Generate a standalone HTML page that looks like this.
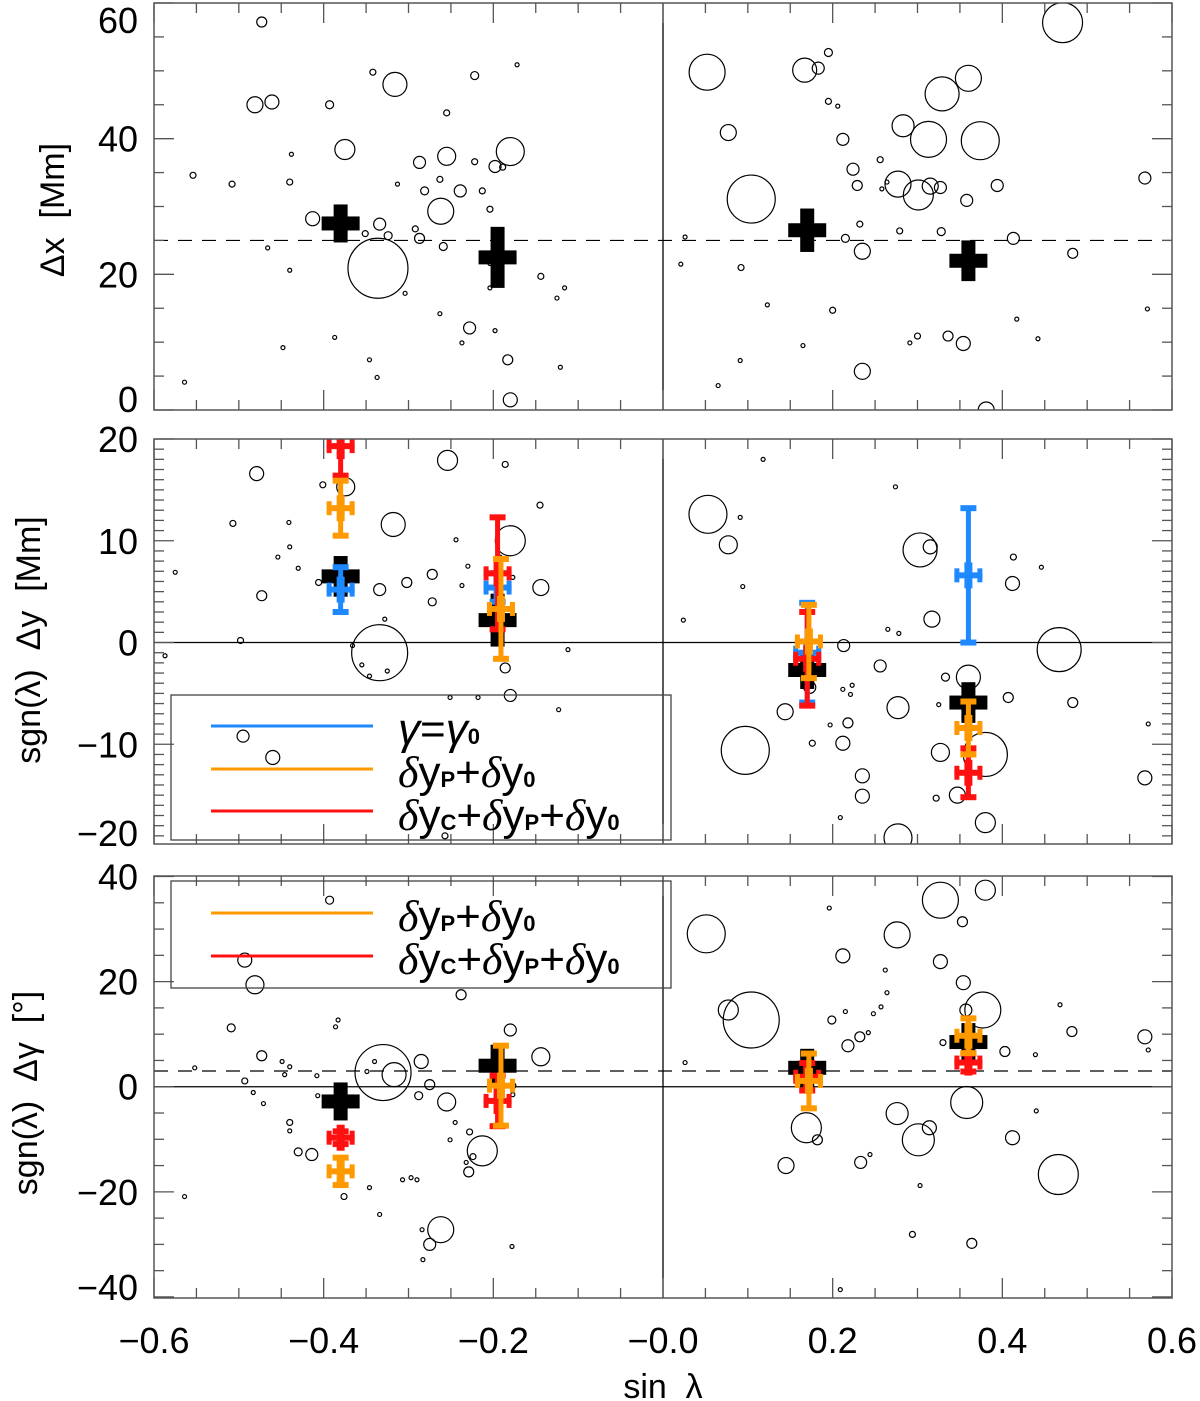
<!DOCTYPE html>
<html><head><meta charset="utf-8"><style>
html,body{margin:0;padding:0;background:#fff}
svg{display:block}
text{font-family:"Liberation Sans",sans-serif;fill:#000}
</style></head><body>
<svg id="chart" width="1200" height="1401" viewBox="0 0 1200 1401" xmlns="http://www.w3.org/2000/svg"></svg>
<script>
// ---------- data ----------
const xTicks=[-0.6,-0.4,-0.2,0.0,0.2,0.4,0.6];
const xTickLabels=["\u22120.6","\u22120.4","\u22120.2","\u22120.0","0.2","0.4","0.6"];
const p1Ticks=[0,20,40,60];
const p2Ticks=[-20,-10,0,10,20];
const p3Ticks=[-40,-20,0,20,40];

const p1X=[-0.473,-0.481,-0.461,-0.316,-0.342,-0.393,-0.375,-0.180,-0.198,-0.255,-0.287,-0.263,-0.313,-0.438,-0.440,-0.508,-0.413,-0.262,-0.239,-0.281,-0.334,-0.336,-0.351,-0.324,-0.287,-0.259,-0.213,-0.204,-0.292,-0.466,-0.440,-0.304,-0.387,-0.337,-0.222,-0.172,-0.189,-0.228,-0.198,-0.183,-0.180,-0.144,-0.125,-0.116,-0.121,-0.448,-0.564,-0.263,-0.237,-0.346,-0.554,-0.222,-0.255,-0.204,-0.204,
0.052,0.077,0.104,0.167,0.183,0.195,0.195,0.212,0.224,0.229,0.264,0.283,0.313,0.329,0.360,0.374,0.277,0.301,0.315,0.327,0.394,0.358,0.328,0.235,0.279,0.258,0.232,0.256,0.215,0.200,0.235,0.291,0.300,0.336,0.354,0.413,0.417,0.442,0.483,0.571,0.568,0.471,0.381,0.065,0.092,0.091,0.026,0.021,0.123,0.165,0.206];
const p1Y=[57.2,45.0,45.4,48.0,49.8,45.0,38.4,38.1,35.9,37.4,36.5,34.0,33.3,37.7,33.6,33.3,28.2,29.3,32.3,32.3,27.4,20.9,26.0,25.7,25.3,24.1,32.3,29.6,26.7,23.9,20.6,17.2,10.7,4.8,36.6,50.9,35.8,12.1,11.7,7.4,1.5,19.7,16.5,18.0,6.3,9.2,4.1,14.2,9.9,7.4,34.6,49.3,43.8,21.6,18.0,
49.8,40.9,31.1,50.1,50.4,52.7,45.5,39.9,35.5,33.1,33.6,41.9,39.9,46.6,48.9,39.7,33.3,31.7,33.0,32.8,33.1,30.9,26.3,23.4,26.4,32.6,27.4,36.9,25.3,14.7,5.7,9.9,10.9,10.9,9.8,25.3,13.4,10.5,23.1,14.9,34.2,57.1,0.0,3.6,21.0,7.3,25.5,21.5,15.5,9.5,44.8];
const p1S=[5,8,7,12,3,4,10,14,6,9,6,3,2,2,3,3,7,13,6,4,6,30,3,4,5,4,3,3,3,2,2,2,2,2,3,2,3,6,2,5,7,3,2,2,2,2,2,2,2,2,3,4,3,2,2,
18,8,24,12,6,4,3,6,6,5,2,11,18,17,13,19,13,15,8,6,6,6,4,8,3,2,3,3,4,3,8,2,3,5,7,6,2,2,5,2,6,20,8,2,3,2,2,2,2,2,2];

const p2X=[-0.479,-0.374,-0.401,-0.507,-0.441,-0.318,-0.440,-0.430,-0.454,-0.406,-0.473,-0.498,-0.334,-0.302,-0.272,-0.272,-0.254,-0.180,-0.186,-0.145,-0.144,-0.334,-0.328,-0.355,-0.325,-0.346,-0.366,-0.237,-0.192,-0.230,-0.177,-0.186,-0.180,-0.123,-0.112,-0.218,-0.251,-0.575,-0.587,-0.495,-0.460,-0.257,-0.231,-0.244,
0.053,0.077,0.091,0.094,0.118,0.097,0.144,0.173,0.176,0.213,0.197,0.218,0.223,0.212,0.221,0.256,0.212,0.235,0.235,0.277,0.277,0.303,0.315,0.317,0.333,0.327,0.360,0.380,0.347,0.380,0.412,0.413,0.407,0.467,0.483,0.568,0.572,0.278,0.024,0.274,0.446,0.209,0.322,0.325,0.265];
const p2Y=[16.6,15.3,15.5,11.7,11.8,11.6,9.4,7.3,8.4,5.9,4.6,0.2,5.2,5.9,6.7,4.0,17.9,10.0,17.5,13.5,5.4,-1.0,2.3,-2.2,-2.8,-3.3,-0.3,5.6,8.4,7.5,6.4,-2.5,-5.2,-6.6,-0.7,-5.4,-5.4,6.9,-1.3,-9.2,-11.3,-19.0,20.4,10.1,
12.6,9.6,12.3,5.5,18.0,-10.6,-6.8,-4.4,-9.9,-0.3,-8.1,-7.9,-4.2,-4.6,-5.1,-2.3,-9.9,-13.1,-15.1,-6.4,-19.2,9.1,9.4,2.3,-3.4,-10.8,-3.4,-11.0,-15.0,-17.7,5.8,8.4,-5.4,-0.7,-5.9,-13.3,-8.0,0.9,2.2,15.3,7.4,-17.2,-15.3,-6.1,1.3];
const p2S=[7,9,3,3,2,12,2,2,2,3,5,3,6,5,5,4,10,15,3,3,8,28,2,2,2,2,2,2,2,2,2,5,6,2,2,2,2,2,2,6,7,3,3,2,
19,9,2,2,2,24,8,6,3,6,2,5,2,2,2,6,7,7,7,11,14,17,7,8,4,9,12,22,8,10,7,3,5,22,5,7,2,2,2,2,2,2,3,2,2];

const p3X=[-0.393,-0.481,-0.493,-0.509,-0.473,-0.493,-0.449,-0.440,-0.408,-0.340,-0.349,-0.330,-0.317,-0.285,-0.275,-0.288,-0.255,-0.238,-0.228,-0.224,-0.232,-0.229,-0.262,-0.284,-0.213,-0.144,-0.180,-0.178,-0.245,-0.251,-0.376,-0.346,-0.307,-0.297,-0.290,-0.440,-0.430,-0.440,-0.414,-0.471,-0.483,-0.564,-0.552,-0.334,-0.383,-0.386,-0.407,-0.446,-0.275,-0.283,-0.177,-0.177,
0.051,0.077,0.104,0.145,0.169,0.182,0.196,0.199,0.212,0.218,0.233,0.209,0.232,0.215,0.242,0.248,0.257,0.262,0.264,0.276,0.276,0.301,0.314,0.303,0.294,0.330,0.327,0.327,0.353,0.354,0.357,0.358,0.364,0.377,0.380,0.403,0.412,0.439,0.466,0.482,0.568,0.572,0.440,0.026,0.468,0.244];
const p3Y=[35.5,19.4,24.1,11.2,5.9,1.1,4.8,3.8,2.1,4.8,2.9,2.7,2.3,4.8,0.4,-1.7,-2.9,17.5,-8.6,-13.3,-14.4,-16.2,-27.2,-27.2,-12.2,5.7,10.8,-30.4,-6.8,-10.1,-20.9,-19.2,-17.7,-17.3,-17.7,-6.8,-12.4,-8.4,-12.9,-3.2,-1.1,-20.9,3.6,-24.3,12.7,11.4,-1.7,2.3,-30.0,-32.9,0.2,-1.5,
29.1,14.6,12.7,-15.0,-7.8,-10.1,34.0,12.7,24.9,7.8,-14.4,-38.6,9.5,14.3,10.3,13.9,15.2,22.2,17.9,28.9,-5.1,-10.1,-7.8,-18.8,-28.1,8.4,23.8,35.5,31.4,19.8,14.6,-3.0,-29.8,14.6,37.4,6.7,-9.7,6.1,-16.7,10.5,9.5,7.0,-4.6,4.6,15.6,-12.9];
const p3S=[4,9,7,4,5,3,2,2,2,2,2,28,12,7,5,4,9,5,3,3,2,5,13,2,15,9,6,2,2,2,3,2,2,2,2,3,4,2,6,2,2,2,2,2,2,2,2,2,6,2,3,2,
19,10,28,8,15,5,2,4,7,6,6,2,5,2,2,2,2,2,2,13,11,16,7,2,3,3,7,18,5,7,6,16,5,18,10,5,7,2,20,5,7,2,2,2,2,2];

// error-bar series
const p1BlackX=[-0.38,-0.195,0.17,0.36], p1BlackV=[27.5,22.5,26.5,22.0], p1BlackE=[2.5,4.5,3.2,3.0];
const p2BlackX=[-0.38,-0.195,0.17,0.36], p2BlackV=[6.5,2.2,-2.7,-5.9], p2BlackE=[2.0,2.6,1.5,2.0];
const p2BlueX=[-0.38,-0.195,0.17,0.36], p2BlueV=[5.2,5.4,-1.0,6.6], p2BlueE=[2.3,1.5,5.0,6.7];
const p2RedX=[-0.38,-0.195,0.17,0.36], p2RedV=[19.3,6.8,-1.6,-12.8], p2RedE=[3.0,5.6,4.7,2.5];
const p2OrangeX=[-0.38,-0.191,0.172,0.36], p2OrangeV=[13.2,3.3,0.1,-8.4], p2OrangeE=[2.8,5.0,3.7,2.7];
const p3BlackX=[-0.38,-0.195,0.17,0.36], p3BlackV=[-2.8,4.0,3.6,8.5], p3BlackE=[3.0,4.0,3.3,2.8];
const p3RedX=[-0.38,-0.195,0.17,0.36], p3RedV=[-9.7,-2.7,1.9,4.6], p3RedE=[1.4,5.0,2.8,1.9];
const p3OrangeX=[-0.38,-0.191,0.172,0.36], p3OrangeV=[-16.1,0.2,1.1,9.7], p3OrangeE=[2.8,7.8,5.4,3.5];
const p1Dash=25, p3Dash=3;

// ---------- drawing ----------
const NS="http://www.w3.org/2000/svg";
const svg=document.getElementById('chart');
const L=154,R=1172;
function sx(v){return L+(v+0.6)/1.2*(R-L);}
const panels=[
 {top:3,bot:410,min:0,max:60,major:20,minor:5},
 {top:439,bot:844,min:-19.8,max:20.0,major:10,minor:1},
 {top:876,bot:1298,min:-40.2,max:40.1,major:20,minor:5}];
function mk(tag,attrs,parent){const e=document.createElementNS(NS,tag);for(const k in attrs)e.setAttribute(k,attrs[k]);(parent||svg).appendChild(e);return e;}
function syFn(p){return v=>p.bot-(v-p.min)/(p.max-p.min)*(p.bot-p.top);}

const BLUE="#1e88ff",ORANGE="#ff9900",RED="#ff1111";
const defs=mk('defs',{});

function drawPanel(idx,p,ticks,xs,ys,ss){
  const cp=mk('clipPath',{id:'clip'+idx},defs);
  mk('rect',{x:L,y:p.top,width:R-L,height:p.bot-p.top},cp);
  const g=mk('g',{});
  
  
  const inner=mk('g',{'clip-path':'url(#clip'+idx+')'},g);
  
  
  const sy=syFn(p);
  const cg=mk('g',{},inner);
  
  
  for(let i=0;i<xs.length;i++){
    const y=sy(ys[i]);
    const c=mk('circle',{cx:sx(xs[i]),cy:y,r:ss[i],fill:'none',stroke:'#000','stroke-width':1.2},cg);
    
    
  }
  const vl=mk('line',{x1:sx(0),x2:sx(0),y1:p.top,y2:p.bot,stroke:'#000','stroke-width':1.3},g);
  
  
  const fr=mk('rect',{x:L,y:p.top,width:R-L,height:p.bot-p.top,fill:'none',stroke:'#555','stroke-width':1.5},g);
  
  
  for(let k=0;k<=24;k++){
    const v=-0.6+k*0.05; const x=sx(v); const len=(k%4===0)?20:10;
    mk('line',{x1:x,x2:x,y1:p.bot,y2:p.bot-len,stroke:'#555','stroke-width':1.3},g);
    mk('line',{x1:x,x2:x,y1:p.top,y2:p.top+len,stroke:'#555','stroke-width':1.3},g);
  }
  const start=Math.ceil(p.min/p.minor)*p.minor;
  for(let v=start;v<=p.max+1e-9;v+=p.minor){
    const y=sy(v); const isMaj=Math.abs(v/p.major-Math.round(v/p.major))<1e-6; const len=isMaj?20:10;
    mk('line',{x1:L,x2:L+len,y1:y,y2:y,stroke:'#555','stroke-width':1.3},g);
    mk('line',{x1:R,x2:R-len,y1:y,y2:y,stroke:'#555','stroke-width':1.3},g);
  }
  ticks.forEach(v=>{
    let y=sy(v)+13; y=Math.max(y,33); y=Math.min(y,p.bot+2);
    const t=mk('text',{x:138,y:y,'text-anchor':'end','font-size':36},g);
    t.textContent=(v<0?'\u2212':'')+Math.abs(v);
    
    
  });
  return {g:inner,sy};
}

function blackMarks(g,sy,X,V,E){
  for(let i=0;i<X.length;i++){
    const x=sx(X[i]),y=sy(V[i]);
    let y1=sy(V[i]+E[i]),y2=sy(V[i]-E[i]);
    y1=Math.min(y1,y-19);y2=Math.max(y2,y+19);
    const gg=mk('g',{},g);
    
    
    mk('rect',{x:x-7,y:y1,width:14,height:y2-y1,fill:'#000'},gg);
    mk('rect',{x:x-19,y:y-7,width:38,height:14,fill:'#000'},gg);
  }
}
function colorMarks(g,sy,X,V,E,col,name){
  for(let i=0;i<X.length;i++){
    const x=sx(X[i]),y=sy(V[i]);
    const y1=sy(V[i]+E[i]),y2=sy(V[i]-E[i]);
    const gg=mk('g',{},g);
    
    
    mk('rect',{x:x-2.5,y:y1,width:5,height:y2-y1,fill:col},gg);
    mk('rect',{x:x-8,y:y1-2,width:16,height:6,fill:col},gg);
    mk('rect',{x:x-8,y:y2-4,width:16,height:6,fill:col},gg);
    mk('rect',{x:x-4,y:y-13,width:8,height:26,fill:col},gg);
    mk('rect',{x:x-14,y:y-3,width:28,height:6,fill:col},gg);
    mk('rect',{x:x-14,y:y-7,width:5,height:14,fill:col},gg);
    mk('rect',{x:x+9,y:y-7,width:5,height:14,fill:col},gg);
  }
}
function hline(g,sy,v,dash,name){
  const y=sy(v);
  const l=mk('line',{x1:L,x2:R,y1:y,y2:y,stroke:'#000','stroke-width':1.2},g);
  if(dash) l.setAttribute('stroke-dasharray','14,10');
  
  
}

let P=drawPanel(0,panels[0],p1Ticks,p1X,p1Y,p1S);
hline(P.g,P.sy,p1Dash,true,'reference-dashed-line');
blackMarks(P.g,P.sy,p1BlackX,p1BlackV,p1BlackE);

P=drawPanel(1,panels[1],p2Ticks,p2X,p2Y,p2S);
hline(P.g,P.sy,0,false,'zero-horizontal-line');
blackMarks(P.g,P.sy,p2BlackX,p2BlackV,p2BlackE);
colorMarks(P.g,P.sy,p2BlueX,p2BlueV,p2BlueE,BLUE,'gamma-gamma0-errorbar');
colorMarks(P.g,P.sy,p2RedX,p2RedV,p2RedE,RED,'dyc-dyp-dy0-errorbar');
colorMarks(P.g,P.sy,p2OrangeX,p2OrangeV,p2OrangeE,ORANGE,'dyp-dy0-errorbar');

P=drawPanel(2,panels[2],p3Ticks,p3X,p3Y,p3S);
hline(P.g,P.sy,0,false,'zero-horizontal-line');
hline(P.g,P.sy,p3Dash,true,'reference-dashed-line');
blackMarks(P.g,P.sy,p3BlackX,p3BlackV,p3BlackE);
colorMarks(P.g,P.sy,p3RedX,p3RedV,p3RedE,RED,'dyc-dyp-dy0-errorbar');
colorMarks(P.g,P.sy,p3OrangeX,p3OrangeV,p3OrangeE,ORANGE,'dyp-dy0-errorbar');

xTicks.forEach((v,i)=>{
  const t=mk('text',{x:sx(v),y:1353,'text-anchor':'middle','font-size':36});
  t.textContent=xTickLabels[i];
  
  
});
</script>
<svg width="1200" height="1401" style="position:absolute;left:0;top:0" xmlns="http://www.w3.org/2000/svg">
  <text x="663" y="1398" text-anchor="middle" font-size="34" font-family="Liberation Sans, sans-serif">sin&#160;&#160;λ</text>
  <text transform="translate(64,210) rotate(-90)" text-anchor="middle" font-size="34" font-family="Liberation Sans, sans-serif">Δx&#160;&#160;[Mm]</text>
  <text transform="translate(40,640) rotate(-90)" text-anchor="middle" font-size="34" font-family="Liberation Sans, sans-serif">sgn(λ)&#160;&#160;Δy&#160;&#160;[Mm]</text>
  <text transform="translate(37,1093) rotate(-90)" text-anchor="middle" font-size="34" font-family="Liberation Sans, sans-serif">sgn(λ)&#160;&#160;Δγ&#160;&#160;[°]</text>

  <g>
    <rect x="171" y="695" width="500" height="145" fill="none" stroke="#444" stroke-width="1.3"/>
    <line x1="211" x2="373" y1="726" y2="726" stroke="#1e88ff" stroke-width="3"/>
    <line x1="211" x2="373" y1="769" y2="769" stroke="#ff9900" stroke-width="3"/>
    <line x1="211" x2="373" y1="811" y2="811" stroke="#ff1111" stroke-width="3"/>
    <text x="398" y="744" font-size="44" font-family="Liberation Serif, serif" font-style="italic">γ<tspan font-style="normal" font-family="Liberation Sans, sans-serif">=</tspan>γ<tspan font-family="Liberation Sans, sans-serif" font-style="normal" font-weight="bold" font-size="22">0</tspan></text>
    <text x="398" y="787" font-size="44" font-family="Liberation Sans, sans-serif"><tspan font-family="Liberation Serif, serif" font-style="italic">δ</tspan>y<tspan font-weight="bold" font-size="22">P</tspan>+<tspan font-family="Liberation Serif, serif" font-style="italic">δ</tspan>y<tspan font-weight="bold" font-size="22">0</tspan></text>
    <text x="398" y="830" font-size="44" font-family="Liberation Sans, sans-serif"><tspan font-family="Liberation Serif, serif" font-style="italic">δ</tspan>y<tspan font-weight="bold" font-size="22">C</tspan>+<tspan font-family="Liberation Serif, serif" font-style="italic">δ</tspan>y<tspan font-weight="bold" font-size="22">P</tspan>+<tspan font-family="Liberation Serif, serif" font-style="italic">δ</tspan>y<tspan font-weight="bold" font-size="22">0</tspan></text>
  </g>
  <g>
    <rect x="171" y="881" width="500" height="107" fill="none" stroke="#444" stroke-width="1.3"/>
    <line x1="211" x2="373" y1="913" y2="913" stroke="#ff9900" stroke-width="3"/>
    <line x1="211" x2="373" y1="956" y2="956" stroke="#ff1111" stroke-width="3"/>
    <text x="398" y="931" font-size="44" font-family="Liberation Sans, sans-serif"><tspan font-family="Liberation Serif, serif" font-style="italic">δ</tspan>y<tspan font-weight="bold" font-size="22">P</tspan>+<tspan font-family="Liberation Serif, serif" font-style="italic">δ</tspan>y<tspan font-weight="bold" font-size="22">0</tspan></text>
    <text x="398" y="974" font-size="44" font-family="Liberation Sans, sans-serif"><tspan font-family="Liberation Serif, serif" font-style="italic">δ</tspan>y<tspan font-weight="bold" font-size="22">C</tspan>+<tspan font-family="Liberation Serif, serif" font-style="italic">δ</tspan>y<tspan font-weight="bold" font-size="22">P</tspan>+<tspan font-family="Liberation Serif, serif" font-style="italic">δ</tspan>y<tspan font-weight="bold" font-size="22">0</tspan></text>
  </g>
</svg>
</body></html>
